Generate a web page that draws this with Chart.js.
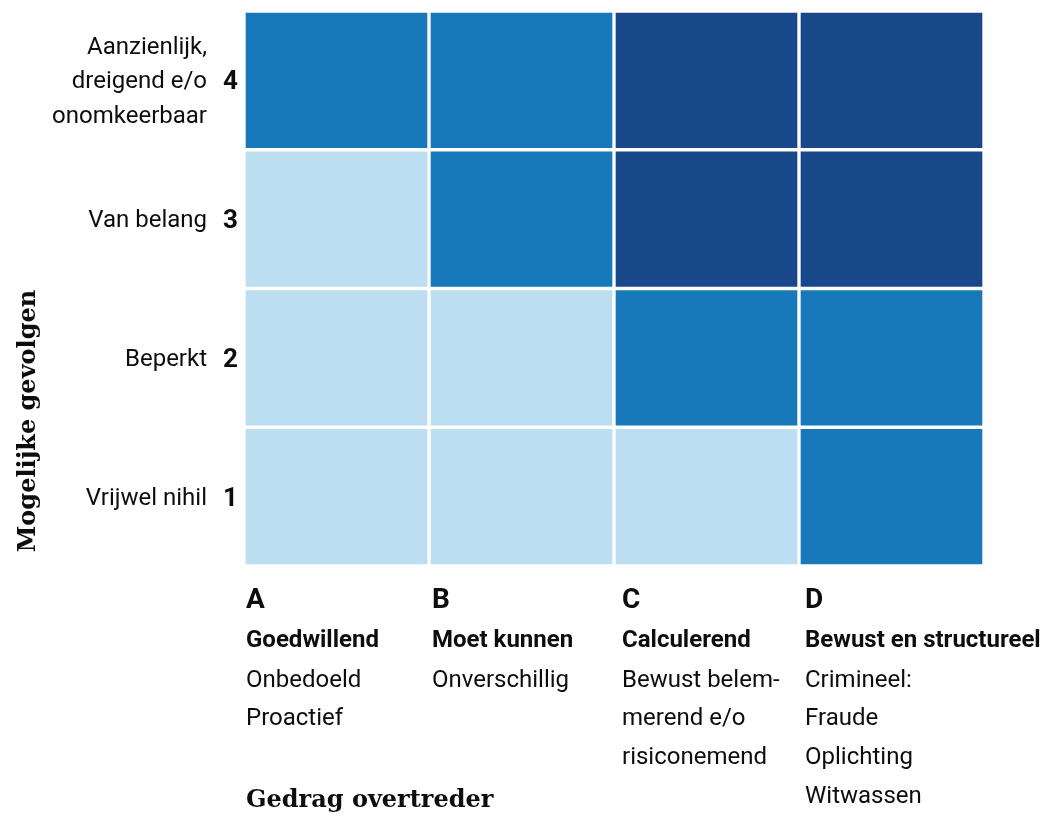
<!DOCTYPE html>
<html>
<head>
<meta charset="utf-8">
<script src="https://cdn.jsdelivr.net/npm/chart.js@4"></script>
<style>
  html, body { margin: 0; padding: 0; background: #ffffff; }
  #wrap { width: 1043px; height: 818px; position: relative; }
</style>
</head>
<body>
<div id="wrap"><canvas id="riskMatrix"></canvas></div>
<script>
// ========== DATA ==========
const columnLetters = ["A", "B", "C", "D"];
const columnTitles = ["Goedwillend", "Moet kunnen", "Calculerend", "Bewust en structureel"];
const columnDescriptions = [
  ["Onbedoeld", "Proactief"],
  ["Onverschillig"],
  ["Bewust belem-", "merend e/o", "risiconemend"],
  ["Crimineel:", "Fraude", "Oplichting", "Witwassen"],
];
const rowNumbers = ["1", "2", "3", "4"];
const rowLabels = [
  ["Vrijwel nihil"],
  ["Beperkt"],
  ["Van belang"],
  ["Aanzienlijk,", "dreigend e/o", "onomkeerbaar"],
];
// risk level per row (1 = bottom .. 4 = top), per column A..D
const riskLevels = [
  [1, 1, 1, 2],
  [1, 1, 2, 2],
  [1, 2, 3, 3],
  [2, 2, 3, 3],
];
const xTitle = "Gedrag overtreder";
const yTitle = "Mogelijke gevolgen";

// ========== STYLE ==========
const levelColors = { 1: "#bbdef0", 2: "#1779ba", 3: "#19488a" };
const SANS = "Roboto, 'Noto Sans', sans-serif";
const SERIF = "'DejaVu Serif', serif";
const GAP = 2;

// ========== LABEL PLUGIN ==========
const labelPlugin = {
  id: "matrixLabels",
  afterDraw(chart) {
    const { ctx, chartArea, scales } = chart;
    const gridLeft = chartArea.left + GAP;
    const gridBottom = chartArea.bottom - GAP;
    const meta = chart.getDatasetMeta(0);
    ctx.save();
    ctx.fillStyle = "#0d0d0d";

    // rows (y side)
    rowNumbers.forEach((num, r) => {
      const cy = scales.y.getPixelForValue(r + 0.5);
      ctx.textAlign = "right";
      ctx.textBaseline = "alphabetic";
      ctx.font = `bold 26px ${SANS}`;
      ctx.fillText(num, gridLeft - 8, cy + 9);
      ctx.font = `24px ${SANS}`;
      const lines = rowLabels[r];
      lines.forEach((line, i) => {
        const y = cy + 8 + (i - (lines.length - 1) / 2) * 34.5;
        ctx.fillText(line, gridLeft - 39, y);
      });
    });

    // columns (x side)
    const nudge = [0, 1, 6, 4];
    columnLetters.forEach((letter, c) => {
      const bar = meta.data[c];
      const left = bar.x - bar.width / 2 + GAP + nudge[c];
      ctx.textAlign = "left";
      ctx.textBaseline = "alphabetic";
      ctx.font = `bold 28px ${SANS}`;
      ctx.fillText(letter, left, gridBottom + 44);
      ctx.font = `bold 24px ${SANS}`;
      ctx.fillText(columnTitles[c], left, gridBottom + 83);
      ctx.font = `24px ${SANS}`;
      columnDescriptions[c].forEach((line, i) => {
        ctx.fillText(line, left, gridBottom + 122.5 + i * 38.7);
      });
    });

    // axis titles
    ctx.font = `bold 24px ${SERIF}`;
    ctx.textAlign = "left";
    ctx.fillText(xTitle, gridLeft, 807);
    ctx.translate(35, 421);
    ctx.rotate(-Math.PI / 2);
    ctx.textAlign = "center";
    ctx.fillText(yTitle, 0, 0);
    ctx.restore();
  },
};

// ========== CHART ==========
const datasets = riskLevels.map((levels, r) => ({
  label: rowNumbers[r],
  data: levels.map(() => 1),
  backgroundColor: levels.map((lv) => levelColors[lv]),
  borderColor: "#ffffff",
  borderWidth: GAP,
  borderSkipped: false,
  categoryPercentage: 1,
  barPercentage: 1,
}));

new Chart(document.getElementById("riskMatrix"), {
  type: "bar",
  data: { labels: columnLetters, datasets },
  options: {
    responsive: true,
    maintainAspectRatio: false,
    animation: false,
    layout: { padding: { left: 244, right: 59, top: 11, bottom: 252 } },
    scales: {
      x: { display: false, stacked: true },
      y: { display: false, stacked: true, min: 0, max: 4 },
    },
    plugins: { legend: { display: false }, tooltip: { enabled: false } },
  },
  plugins: [labelPlugin],
});
</script>
</body>
</html>
